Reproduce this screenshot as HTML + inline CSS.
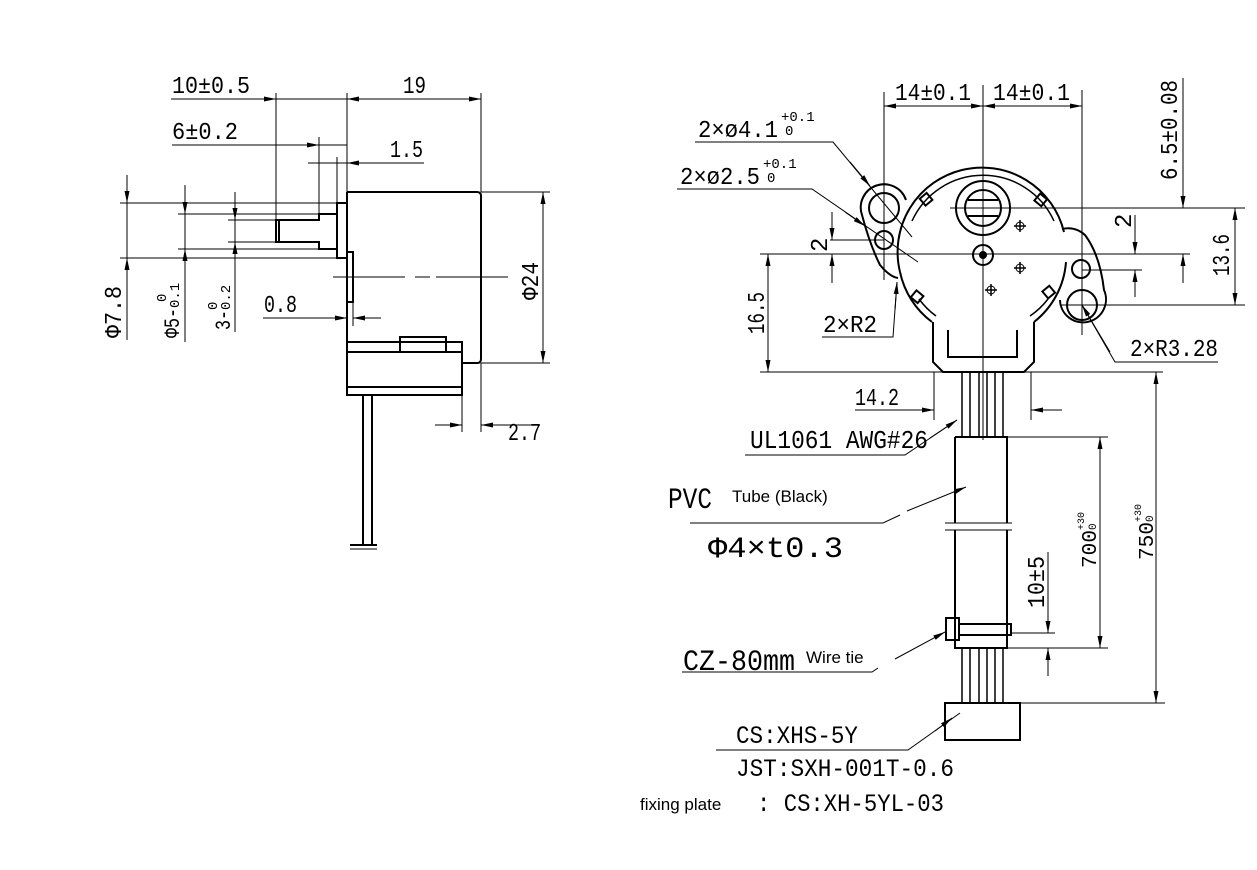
<!DOCTYPE html>
<html><head><meta charset="utf-8"><style>
html,body{margin:0;padding:0;background:#fff;}
svg{display:block}
.t{font-family:"Liberation Mono",monospace;fill:#000;}
.s{font-family:"Liberation Sans",sans-serif;fill:#000;}
</style></head><body>
<svg width="1257" height="870" viewBox="0 0 1257 870" xmlns="http://www.w3.org/2000/svg">
<defs>
<marker id="a" viewBox="0 0 12 6" refX="12" refY="3" markerWidth="12" markerHeight="6" markerUnits="userSpaceOnUse" orient="auto-start-reverse"><path d="M0,0.5 L12,3 L0,5.5Z" fill="#000"/></marker>
</defs>
<g fill="none" stroke="#000" stroke-width="1">
<line x1="171" y1="99" x2="347" y2="99"/>
<line x1="240" y1="99" x2="276" y2="99" marker-end="url(#a)"/>
<line x1="347" y1="99" x2="481" y2="99" marker-start="url(#a)" marker-end="url(#a)"/>
<line x1="276" y1="93" x2="276" y2="242"/>
<line x1="347" y1="93" x2="347" y2="192"/>
<line x1="481" y1="93" x2="481" y2="192"/>
<line x1="172" y1="145" x2="347" y2="145"/>
<line x1="290" y1="145" x2="319" y2="145" marker-end="url(#a)"/>
<line x1="319" y1="137" x2="319" y2="214"/>
<line x1="337" y1="157" x2="337" y2="203"/>
<line x1="308" y1="163" x2="424" y2="163"/>
<line x1="360" y1="163" x2="347" y2="163" marker-end="url(#a)"/>
<line x1="120" y1="203" x2="337" y2="203"/>
<line x1="120" y1="258" x2="337" y2="258"/>
<line x1="178" y1="214" x2="319" y2="214"/>
<line x1="178" y1="249" x2="319" y2="249"/>
<line x1="228" y1="220" x2="276" y2="220"/>
<line x1="228" y1="242" x2="276" y2="242"/>
<line x1="127" y1="175" x2="127" y2="340"/>
<line x1="127" y1="180" x2="127" y2="203" marker-end="url(#a)"/>
<line x1="127" y1="280" x2="127" y2="258" marker-end="url(#a)"/>
<line x1="185" y1="185" x2="185" y2="342"/>
<line x1="185" y1="190" x2="185" y2="214" marker-end="url(#a)"/>
<line x1="185" y1="275" x2="185" y2="249" marker-end="url(#a)"/>
<line x1="235" y1="192" x2="235" y2="332"/>
<line x1="235" y1="196" x2="235" y2="220" marker-end="url(#a)"/>
<line x1="235" y1="266" x2="235" y2="242" marker-end="url(#a)"/>
<line x1="263" y1="318" x2="347" y2="318"/>
<line x1="330" y1="318" x2="347" y2="318" marker-end="url(#a)"/>
<line x1="381" y1="318" x2="353" y2="318" marker-end="url(#a)"/>
<line x1="353" y1="302" x2="353" y2="326"/>
<line x1="333" y1="277" x2="405" y2="277"/>
<line x1="415" y1="277" x2="430" y2="277"/>
<line x1="436" y1="277" x2="508" y2="277"/>
<line x1="481" y1="192" x2="550" y2="192"/>
<line x1="481" y1="363" x2="550" y2="363"/>
<line x1="543" y1="192" x2="543" y2="363" marker-start="url(#a)" marker-end="url(#a)"/>
<line x1="462" y1="395" x2="462" y2="432"/>
<line x1="481" y1="363" x2="481" y2="432"/>
<line x1="435" y1="425" x2="462" y2="425" marker-end="url(#a)"/>
<line x1="540" y1="425" x2="481" y2="425" marker-end="url(#a)"/>
</g>
<g fill="none" stroke="#000" stroke-width="2">
<path d="M347,192 H477 Q481,192 481,196 V359 Q481,363 477,363 H462"/>
<line x1="347" y1="192" x2="347" y2="395"/>
<rect x="337" y="203" width="10" height="55"/>
<path d="M337,214 H319 V220 H276 V242 H319 V249 H337"/>
<line x1="279" y1="220" x2="279" y2="242"/>
<rect x="347" y="252" width="6" height="50"/>
<rect x="347" y="342" width="115" height="53"/>
<line x1="347" y1="352" x2="462" y2="352"/>
<line x1="347" y1="387" x2="462" y2="387"/>
<rect x="400" y="337" width="46" height="15"/>
<line x1="363" y1="395" x2="363" y2="545"/>
<line x1="372" y1="395" x2="372" y2="545"/>
<line x1="350" y1="545" x2="377" y2="545"/>
<line x1="350" y1="549" x2="377" y2="549" stroke-width="1"/>
</g>
<g class="t" font-size="24">
<text x="172" y="93" textLength="78" lengthAdjust="spacingAndGlyphs">10±0.5</text>
<text x="403" y="93" textLength="23" lengthAdjust="spacingAndGlyphs">19</text>
<text x="172" y="139" textLength="66" lengthAdjust="spacingAndGlyphs">6±0.2</text>
<text x="390" y="157" textLength="33" lengthAdjust="spacingAndGlyphs">1.5</text>
<text x="264" y="312" textLength="33" lengthAdjust="spacingAndGlyphs">0.8</text>
<text x="508" y="440" textLength="33" lengthAdjust="spacingAndGlyphs">2.7</text>
<text transform="translate(538,300) rotate(-90)" textLength="38" lengthAdjust="spacingAndGlyphs">Φ24</text>
<text transform="translate(121,338) rotate(-90)" textLength="52" lengthAdjust="spacingAndGlyphs">Φ7.8</text>
<text transform="translate(179,338) rotate(-90)" font-size="22" textLength="30" lengthAdjust="spacingAndGlyphs">Φ5-</text>
<text transform="translate(179,308) rotate(-90)" font-size="14">0.1</text>
<text transform="translate(166,302) rotate(-90)" font-size="14">0</text>
<text transform="translate(230,330) rotate(-90)" font-size="22" textLength="20" lengthAdjust="spacingAndGlyphs">3-</text>
<text transform="translate(230,310) rotate(-90)" font-size="14">0.2</text>
<text transform="translate(217,310) rotate(-90)" font-size="14">0</text>
</g>

<g fill="none" stroke="#000" stroke-width="1">
<line x1="983" y1="85" x2="983" y2="440"/>
<line x1="884" y1="92" x2="884" y2="280"/>
<line x1="1082" y1="90" x2="1082" y2="335"/>
<line x1="884" y1="106" x2="983" y2="106" marker-start="url(#a)" marker-end="url(#a)"/>
<line x1="983" y1="106" x2="1082" y2="106" marker-start="url(#a)" marker-end="url(#a)"/>
<line x1="1183" y1="78" x2="1183" y2="208" marker-end="url(#a)"/>
<line x1="1183" y1="283" x2="1183" y2="254" marker-end="url(#a)"/>
<line x1="1015" y1="208" x2="1245" y2="208"/>
<line x1="950" y1="208" x2="1015" y2="208"/>
<line x1="760" y1="254" x2="1190" y2="254"/>
<line x1="1060" y1="305" x2="1245" y2="305"/>
<line x1="1235" y1="208" x2="1235" y2="305" marker-start="url(#a)" marker-end="url(#a)"/>
<line x1="1082" y1="270" x2="1142" y2="270"/>
<line x1="1135" y1="215" x2="1135" y2="254" marker-end="url(#a)"/>
<line x1="1135" y1="297" x2="1135" y2="270" marker-end="url(#a)"/>
<line x1="830" y1="240" x2="884" y2="240"/>
<line x1="832" y1="212" x2="832" y2="240" marker-end="url(#a)"/>
<line x1="832" y1="283" x2="832" y2="254" marker-end="url(#a)"/>
<line x1="760" y1="372" x2="1163" y2="372"/>
<line x1="768" y1="254" x2="768" y2="372" marker-start="url(#a)" marker-end="url(#a)"/>
<polyline points="822,337 893,337 897,282"/>
<line x1="895" y1="310" x2="897" y2="282" marker-end="url(#a)"/>
<polyline points="1218,362 1115,362 1082,305"/>
<line x1="1110" y1="352" x2="1082" y2="305" marker-end="url(#a)"/>
<polyline points="695,142 833,142 912,237"/>
<line x1="850" y1="162" x2="870" y2="186" marker-end="url(#a)"/>
<polyline points="677,189 812,189 918,262"/>
<line x1="845" y1="212" x2="865" y2="226" marker-end="url(#a)"/>
<line x1="934" y1="372" x2="934" y2="420"/>
<line x1="1031" y1="372" x2="1031" y2="420"/>
<line x1="855" y1="410" x2="934" y2="410"/>
<line x1="910" y1="410" x2="934" y2="410" marker-end="url(#a)"/>
<line x1="1062" y1="410" x2="1031" y2="410" marker-end="url(#a)"/>
<polyline points="745,455 905,455 957,420"/>
<line x1="930" y1="438" x2="957" y2="420" marker-end="url(#a)"/>
<line x1="1007" y1="437" x2="1108" y2="437"/>
<line x1="1007" y1="648" x2="1108" y2="648"/>
<line x1="1100" y1="437" x2="1100" y2="648" marker-start="url(#a)" marker-end="url(#a)"/>
<line x1="1020" y1="703" x2="1165" y2="703"/>
<line x1="1156" y1="372" x2="1156" y2="703" marker-start="url(#a)" marker-end="url(#a)"/>
<line x1="1011" y1="633" x2="1055" y2="633"/>
<line x1="1048" y1="552" x2="1048" y2="633" marker-end="url(#a)"/>
<line x1="1048" y1="676" x2="1048" y2="648" marker-end="url(#a)"/>
<polyline points="690,523 883,523 900,515"/>
<line x1="907" y1="511" x2="966" y2="487" marker-end="url(#a)"/>
<polyline points="682,672 872,672 878,668"/>
<line x1="895" y1="659" x2="945" y2="632" marker-end="url(#a)"/>
<polyline points="716,750 908,750 960,713"/>
<line x1="935" y1="731" x2="952" y2="718" marker-end="url(#a)"/>
</g>
<g fill="none" stroke="#000" stroke-width="2">
<!-- main circle -->
<path d="M900,272 A84,84 0 0 1 1064,232"/>
<path d="M1066,262 A84,84 0 0 1 1034,322"/>
<path d="M932,322 A84,84 0 0 1 900,272"/>
<path d="M912,221 A78,78 0 0 1 1054,221" stroke-width="1.5"/>
<path d="M919,299 A78,78 0 0 0 936,316" stroke-width="1.5"/>
<path d="M1030,316 A78,78 0 0 0 1048,299" stroke-width="1.5"/>
<!-- left ear -->
<path d="M906,200 A23,23 0 1 0 862,215 Q870,245 880,265 Q890,277 898,278"/>
<circle cx="884" cy="208" r="15"/>
<circle cx="884" cy="240" r="9"/>
<!-- right ear -->
<path d="M1062,229 Q1075,226 1085,235 Q1100,255 1104,290 A23,23 0 1 1 1060,300"/>
<circle cx="1081" cy="269" r="9"/>
<circle cx="1082" cy="305" r="15"/>
<path d="M933,322 V362 L943,372 H1024 L1034,362 V322"/>
<path d="M948,330 V357 H1017 V330"/>
<circle cx="983" cy="208" r="27"/>
<circle cx="983" cy="208" r="18"/>
<line x1="968" y1="200" x2="998" y2="200"/>
<line x1="968" y1="216" x2="998" y2="216"/>
<circle cx="983" cy="255" r="10"/>
<circle cx="983" cy="255" r="3" fill="#000"/>
<rect x="922" y="195" width="9" height="9" transform="rotate(-40 926 200)"/>
<rect x="1036" y="195" width="9" height="9" transform="rotate(40 1040 200)"/>
<rect x="913" y="292" width="9" height="9" transform="rotate(40 917 296)"/>
<rect x="1044" y="288" width="9" height="9" transform="rotate(-40 1048 292)"/>
<g stroke-width="1.5">
<line x1="962" y1="372" x2="962" y2="437"/><line x1="970" y1="372" x2="970" y2="437"/><line x1="979" y1="372" x2="979" y2="437"/><line x1="987" y1="372" x2="987" y2="437"/><line x1="995" y1="372" x2="995" y2="437"/><line x1="1003" y1="372" x2="1003" y2="437"/>
<line x1="962" y1="648" x2="962" y2="703"/><line x1="970" y1="648" x2="970" y2="703"/><line x1="979" y1="648" x2="979" y2="703"/><line x1="987" y1="648" x2="987" y2="703"/><line x1="995" y1="648" x2="995" y2="703"/><line x1="1003" y1="648" x2="1003" y2="703"/>
</g>
<path d="M955,437 V523 M955,530 V648 H1007 V530 M1007,523 V437 H955"/>
<line x1="945" y1="523" x2="1012" y2="523" stroke-width="1"/>
<line x1="945" y1="530" x2="1012" y2="530" stroke-width="1"/>
<rect x="946" y="618" width="13" height="22"/>
<rect x="959" y="624" width="52" height="11"/>
<rect x="945" y="703" width="75" height="37"/>
</g>
<g stroke="#000" stroke-width="1.5">
<line x1="1014" y1="226" x2="1026" y2="226"/><line x1="1020" y1="220" x2="1020" y2="232"/>
<line x1="1014" y1="268" x2="1026" y2="268"/><line x1="1020" y1="262" x2="1020" y2="274"/>
<line x1="985" y1="290" x2="997" y2="290"/><line x1="991" y1="284" x2="991" y2="296"/>
</g>
<g fill="none" stroke="#000" stroke-width="1"><circle cx="1020" cy="226" r="4"/><circle cx="1020" cy="268" r="4"/><circle cx="991" cy="290" r="4"/></g>

<g class="t" font-size="24">
<text x="895" y="100" textLength="76" lengthAdjust="spacingAndGlyphs">14±0.1</text>
<text x="993" y="100" textLength="77" lengthAdjust="spacingAndGlyphs">14±0.1</text>
<text x="698" y="137" textLength="80" lengthAdjust="spacingAndGlyphs">2×ø4.1</text>
<text x="781" y="121" font-size="14">+0.1</text>
<text x="785" y="135" font-size="14">0</text>
<text x="680" y="184" textLength="80" lengthAdjust="spacingAndGlyphs">2×ø2.5</text>
<text x="763" y="168" font-size="14">+0.1</text>
<text x="767" y="182" font-size="14">0</text>
<text transform="translate(1177,180) rotate(-90)" textLength="100" lengthAdjust="spacingAndGlyphs">6.5±0.08</text>
<text transform="translate(1229,276) rotate(-90)" textLength="42" lengthAdjust="spacingAndGlyphs">13.6</text>
<text transform="translate(1131,228) rotate(-90)">2</text>
<text transform="translate(827,252) rotate(-90)">2</text>
<text transform="translate(764,334) rotate(-90)" textLength="42" lengthAdjust="spacingAndGlyphs">16.5</text>
<text x="823" y="332" textLength="54" lengthAdjust="spacingAndGlyphs">2×R2</text>
<text x="1130" y="356" textLength="88" lengthAdjust="spacingAndGlyphs">2×R3.28</text>
<text x="855" y="405" textLength="44" lengthAdjust="spacingAndGlyphs">14.2</text>
<text x="750" y="448" font-size="26" textLength="178" lengthAdjust="spacingAndGlyphs">UL1061 AWG#26</text>
<text x="668" y="508" font-size="30" textLength="44" lengthAdjust="spacingAndGlyphs">PVC</text>
<text x="708" y="557" font-size="30" textLength="135" lengthAdjust="spacingAndGlyphs">Φ4×t0.3</text>
<text x="683" y="670" font-size="30" textLength="112" lengthAdjust="spacingAndGlyphs">CZ-80mm</text>
<text x="736" y="743" font-size="25" textLength="122" lengthAdjust="spacingAndGlyphs">CS:XHS-5Y</text>
<text x="736" y="776" font-size="25" textLength="218" lengthAdjust="spacingAndGlyphs">JST:SXH-001T-0.6</text>
<text x="757" y="811" font-size="25" textLength="187" lengthAdjust="spacingAndGlyphs">: CS:XH-5YL-03</text>
<text transform="translate(1044,608) rotate(-90)" textLength="52" lengthAdjust="spacingAndGlyphs">10±5</text>
<text transform="translate(1096,568) rotate(-90)" font-size="21" textLength="38" lengthAdjust="spacingAndGlyphs">700</text>
<text transform="translate(1084,530) rotate(-90)" font-size="10">+30</text>
<text transform="translate(1096,530) rotate(-90)" font-size="11">0</text>
<text transform="translate(1153,560) rotate(-90)" font-size="21" textLength="38" lengthAdjust="spacingAndGlyphs">750</text>
<text transform="translate(1141,522) rotate(-90)" font-size="10">+30</text>
<text transform="translate(1153,522) rotate(-90)" font-size="11">0</text>
</g>
<g class="s" font-size="17">
<text x="732" y="502">Tube (Black)</text>
<text x="806" y="663">Wire tie</text>
<text x="640" y="810">fixing plate</text>
</g>
</svg>
</body></html>
